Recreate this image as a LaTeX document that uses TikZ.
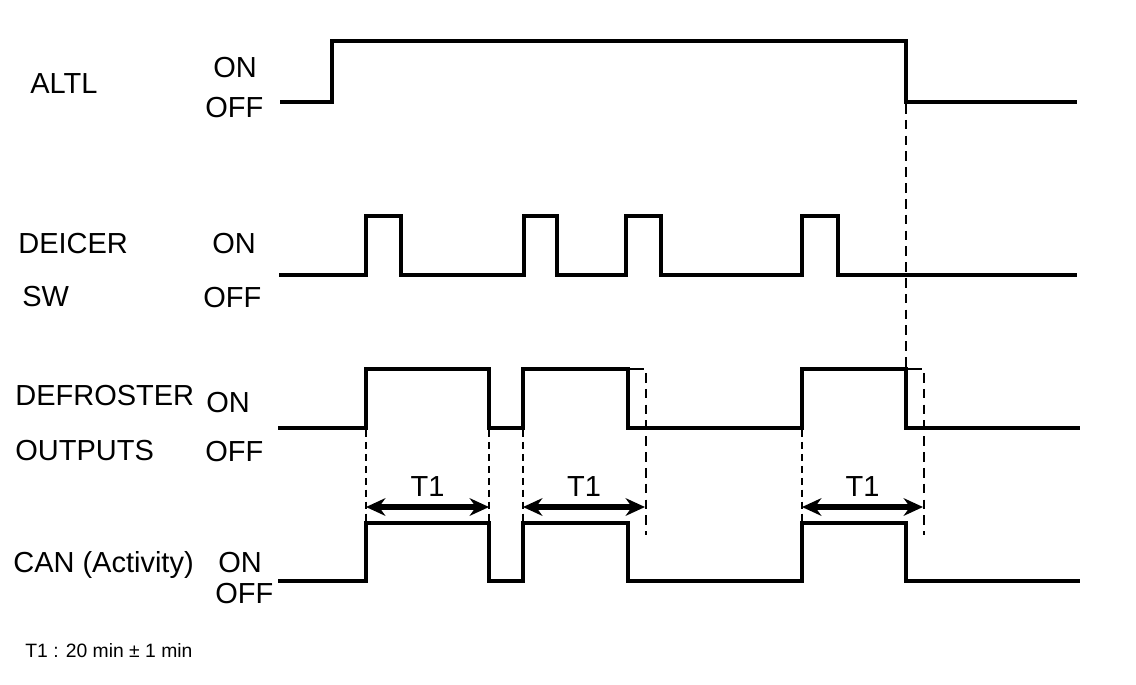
\documentclass[tikz,border=0pt]{standalone}
\usepackage{fontspec}
\setmainfont{Liberation Sans}
\usetikzlibrary{arrows.meta,positioning}

\begin{document}
\begin{tikzpicture}[
    x=0.02cm, y=-0.02cm,
    signal/.style={line width=2.3pt, line join=miter},
    guide/.style={line width=0.8pt, dash pattern=on 4pt off 2.8pt},
    guidebold/.style={line width=1.6pt, dash pattern=on 5.5pt off 3.5pt},
    hold/.style={line width=0.8pt},
    span/.style={{Stealth[length=11pt,width=10pt]}-{Stealth[length=11pt,width=10pt]}, line width=3pt},
    label/.style={font=\fontsize{16.5}{19}\selectfont, inner sep=0pt, anchor=base west},
    tlabel/.style={font=\fontsize{16.5}{19}\selectfont, inner sep=0pt, anchor=base, yshift=5.7pt},
    note/.style={font=\fontsize{11}{13}\selectfont, inner sep=0pt, anchor=base west},
]
\useasboundingbox (0,0) rectangle (1136,684);

% Signal names
\node[label] (altl) at (30,93) {ALTL};
\node[label] (altlon) at (213,77) {ON};
\node[label] (altloff) at (205,117) {OFF};

\node[label] (deicer) at (18,253) {DEICER};
\node[label] (sw) at (22,306) {SW};
\node[label] (deiceron) at (212,253) {ON};
\node[label] (deiceroff) at (203,307) {OFF};

\node[label] (defroster) at (15,405) {DEFROSTER};
\node[label] (outputs) at (15,460) {OUTPUTS};
\node[label] (defrosteron) at (206,412) {ON};
\node[label] (defrosteroff) at (205,461) {OFF};

\node[label] (can) at (13,572) {CAN (Activity)};
\node[label] (canon) at (218,572) {ON};
\node[label] (canoff) at (215,603) {OFF};

% Waveforms
\draw[signal] (280,102) -- (332,102) |- (906,41) |- (1077,102);
\draw[signal] (279,275) -- (366,275) |- (401,216) |- (524,275) |- (557,216)
    |- (626,275) |- (661,216) |- (802,275) |- (838,216) |- (1077,275);
\draw[signal] (278,428) -- (366,428) |- (489,369) |- (523,428) |- (628,369)
    |- (802,428) |- (906,369) |- (1080,428);
\draw[signal] (278,581) -- (366,581) |- (489,523) |- (523,581) |- (628,523)
    |- (802,581) |- (906,523) |- (1080,581);

% Timing marks
\draw[hold] (628,369) -- (644,369);
\draw[hold] (906,369) -- (922,369);
\draw[guidebold] (906,104) -- (906,369);
\draw[guidebold] (646,373) -- (646,535);
\draw[guidebold] (924,373) -- (924,535);
\foreach \x in {366,489,523,802}
    \draw[guide] (\x,430) -- (\x,523);

% T1 intervals
\coordinate (t1a) at (366,507);
\coordinate (t1b) at (489,507);
\coordinate (t2a) at (523,507);
\coordinate (t2b) at (645,507);
\coordinate (t3a) at (802,507);
\coordinate (t3b) at (923,507);
\draw[span] (t1a) -- node[tlabel] (tone) {T1} (t1b);
\draw[span] (t2a) -- node[tlabel] (ttwo) {T1} (t2b);
\draw[span] (t3a) -- node[tlabel] (tthree) {T1} (t3b);

\node[note] (legend) at (25,657) {T1 : 20 min ± 1 min};

\end{tikzpicture}
\end{document}
